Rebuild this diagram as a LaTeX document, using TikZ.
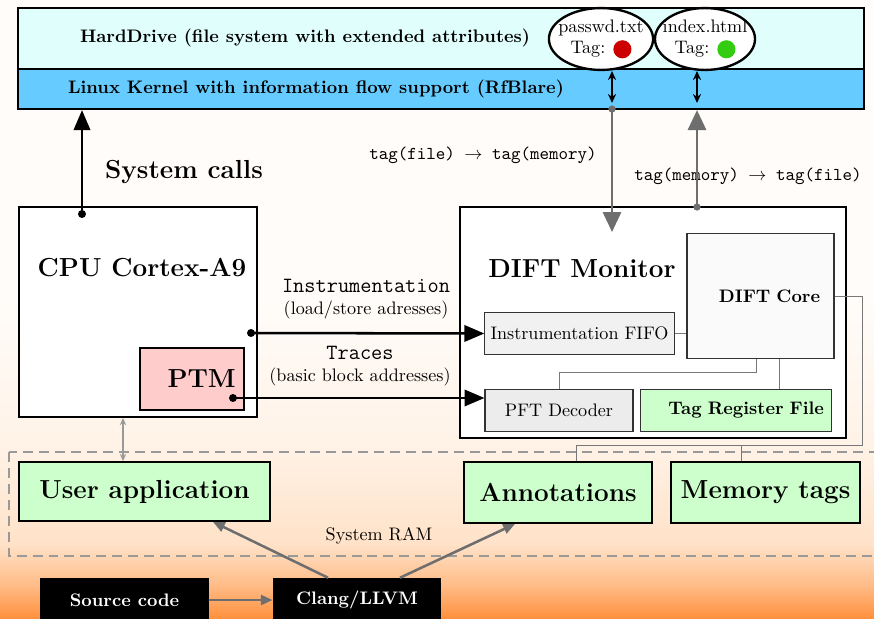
\documentclass[tikz,border=0pt]{standalone}
\usepackage{tikz}
\usetikzlibrary{arrows.meta,calc,shapes.geometric}

\definecolor{hdfill}{RGB}{224,255,252}
\definecolor{kernfill}{RGB}{102,204,255}
\definecolor{ptmfill}{RGB}{255,204,204}
\definecolor{greenfill}{RGB}{204,255,204}
\definecolor{tagred}{RGB}{204,0,0}
\definecolor{taggreen}{RGB}{51,204,17}
\definecolor{arrowgray}{RGB}{110,110,110}
\definecolor{wiregray}{RGB}{120,120,120}
\definecolor{bgorange}{RGB}{255,145,62}
\definecolor{bglight}{RGB}{255,188,136}
\definecolor{bgpeach}{RGB}{255,226,200}
\definecolor{bgpale}{RGB}{255,243,232}
\definecolor{bgtop}{RGB}{255,252,249}

\pgfdeclareverticalshading{slidebg}{100bp}{color(0bp)=(bgorange); color(25bp)=(bgorange);
  color(27.7bp)=(bglight); color(31bp)=(bgpeach); color(39.4bp)=(bgpale);
  color(50.7bp)=(bgtop); color(100bp)=(bgtop)}

\newcommand{\tagdot}[1]{\tikz[baseline=-0.6ex]\fill[#1] (0,0) circle (5pt);}

\begin{document}
\begin{tikzpicture}[x=0.0194cm, y=-0.0194cm,
    box/.style = {draw, line width=1.1pt, rectangle, inner sep=2pt},
    subbox/.style = {draw=black!80, line width=0.6pt, rectangle, inner sep=2pt},
    tagfile/.style = {draw, line width=1.3pt, ellipse, fill=white, align=center, inner xsep=-4pt, inner ysep=1pt},
    bigtext/.style = {font=\Large\bfseries},
    blkarrow/.style = {line width=1.4pt, -{Triangle[length=11pt,width=9pt]}},
    grayarrow/.style = {draw=arrowgray, line width=1.4pt, -{Triangle[length=11pt,width=10pt]}},
    smallgray/.style = {draw=arrowgray, line width=1.4pt, -{Triangle[length=6.5pt,width=5.5pt]}},
    wire/.style = {draw=wiregray, line width=0.5pt}]

  \useasboundingbox (0,0) rectangle (874,618);
  \shade[shading=slidebg] (0,0) rectangle (874,618);

  % file system and kernel
  \node[box, fill=hdfill, minimum width=16.41cm, minimum height=1.18cm] (hd) at (441,38.5) {};
  \node[font=\bfseries] (hdtext) at (305,38) {HardDrive (file system with extended attributes)};
  \node[box, fill=kernfill, minimum width=16.41cm, minimum height=0.78cm] (kern) at (441,89) {};
  \node[font=\bfseries] (kerntext) at (316,89) {Linux Kernel with information flow support (RfBlare)};
  \node[tagfile, minimum width=2.02cm, minimum height=1.2cm] (pw) at (601,39) {passwd.txt\\Tag: \tagdot{tagred}};
  \node[tagfile, minimum width=1.94cm, minimum height=1.2cm] (ix) at (705,39) {index.html\\Tag: \tagdot{taggreen}};

  % CPU
  \node[box, fill=white, minimum width=4.62cm, minimum height=4.07cm] (cpu) at (138,312) {};
  \node[bigtext] (cputext) at (142,268) {CPU Cortex-A9};
  \node[box, fill=ptmfill, minimum width=2.02cm, minimum height=1.2cm, text width=1.7cm, align=right, bigtext] (ptm) at (192,379) {PTM};

  % DIFT monitor
  \node[box, fill=white, minimum width=7.49cm, minimum height=4.48cm] (dift) at (653,322.5) {};
  \node[bigtext] (difttext) at (582,269) {DIFT Monitor};
  \node[subbox, fill=gray!4, minimum width=2.85cm, minimum height=2.44cm, text width=2.31cm, align=right, font=\bfseries] (core) at (760.5,296) {DIFT Core};
  \node[subbox, fill=gray!11, minimum width=3.67cm, minimum height=0.8cm] (fifo) at (579.5,333.5) {Instrumentation FIFO};
  \node[subbox, fill=gray!15, minimum width=2.87cm, minimum height=0.8cm] (pft) at (559,410.5) {PFT Decoder};
  \node[subbox, fill=greenfill, minimum width=3.69cm, minimum height=0.8cm, text width=3.41cm, align=right, font=\bfseries] (trf) at (736,410.5) {Tag Register File};

  % system RAM
  \draw[draw=gray!80, line width=1pt, dash pattern=on 5.5pt off 3.3pt] (9,452) rectangle (890,556);
  \node (ramtext) at (379,536) {System RAM};
  \node[box, fill=greenfill, minimum width=4.87cm, minimum height=1.14cm, bigtext] (app) at (144.5,491.5) {User application};
  \node[box, fill=greenfill, minimum width=3.65cm, minimum height=1.18cm, bigtext] (ann) at (558,492.5) {Annotations};
  \node[box, fill=greenfill, minimum width=3.67cm, minimum height=1.18cm, bigtext] (mem) at (765.5,492.5) {Memory tags};

  % compiler
  \node[fill=black, text=white, font=\bfseries, minimum width=3.28cm, minimum height=0.85cm] (src) at (124.5,600) {Source code};
  \node[fill=black, text=white, font=\bfseries, minimum width=3.26cm, minimum height=0.85cm] (clang) at (357,600) {Clang/LLVM};

  % labels
  \node[bigtext] (sclabel) at (184,172) {System calls};
  \node[font=\ttfamily] (f2m) at (483,155) {tag(file) $\rightarrow$ tag(memory)};
  \node[font=\ttfamily] (m2f) at (748,176) {tag(memory) $\rightarrow$ tag(file)};
  \node[align=center] (inslabel) at (366,299) {{\large\ttfamily Instrumentation}\\(load/store adresses)};
  \node[align=center] (trclabel) at (360,366) {{\large\ttfamily Traces}\\(basic block addresses)};

  % connectors
  \coordinate (sc) at (82,214);
  \fill (sc) circle (2.2pt);
  \draw[blkarrow] (sc) -- (sc |- kern.south);

  \coordinate (ins) at (251,333);
  \fill (ins) circle (2.2pt);
  \draw[blkarrow] (ins) -- (fifo.west);
  \coordinate (trc) at (233,398);
  \fill (trc) circle (2.2pt);
  \draw[blkarrow] (trc) -- (trc -| pft.west);

  \coordinate (f2mtop) at (612,109);
  \coordinate (f2mend) at (612,232);
  \fill[arrowgray] (f2mtop) circle (2pt);
  \draw[grayarrow] (f2mtop) -- (f2mend);
  \coordinate (m2fbot) at (697,207);
  \fill[arrowgray] (m2fbot) circle (2pt);
  \draw[grayarrow] (m2fbot) -- (m2fbot |- kern.south);

  \draw[line width=1.1pt, {Stealth[length=5pt,width=4.5pt]}-{Stealth[length=5pt,width=4.5pt]}] (612,71) -- (612,103);
  \draw[line width=1.1pt, {Stealth[length=5pt,width=4.5pt]}-{Stealth[length=5pt,width=4.5pt]}] (697,71) -- (697,103);

  \draw[wire] (fifo.east) -- (fifo.east -| core.west);
  \draw[wire] ($(core.south)+(-4.5,0)$) -- ++(0,13) -| (pft.north);
  \coordinate (c2t) at ($(core.south)+(18.5,0)$);
  \draw[wire] (c2t) -- (c2t |- trf.north);
  \coordinate (bus) at (862,445);
  \coordinate (annin) at ($(ann.north)+(18,0)$);
  \coordinate (memin) at ($(mem.north)+(-24.5,0)$);
  \draw[wire] (core.east) -| (bus) -| (annin);
  \draw[wire] (memin) -- (memin |- bus);

  \coordinate (c1) at ($(cpu.south)+(-15,0)$);
  \draw[draw=gray!80, line width=0.8pt, {Stealth[length=4pt,width=3.5pt]}-{Stealth[length=4pt,width=3.5pt]}] (c1) -- (c1 |- app.north);

  \draw[smallgray] (src.east) -- (clang.west);
  \draw[smallgray] ($(clang.north)+(-29,0)$) -- ($(app.south)+(68.5,0)$);
  \draw[smallgray] ($(clang.north)+(43,0)$) -- ($(ann.south)+(-43,0)$);
\end{tikzpicture}
\end{document}
